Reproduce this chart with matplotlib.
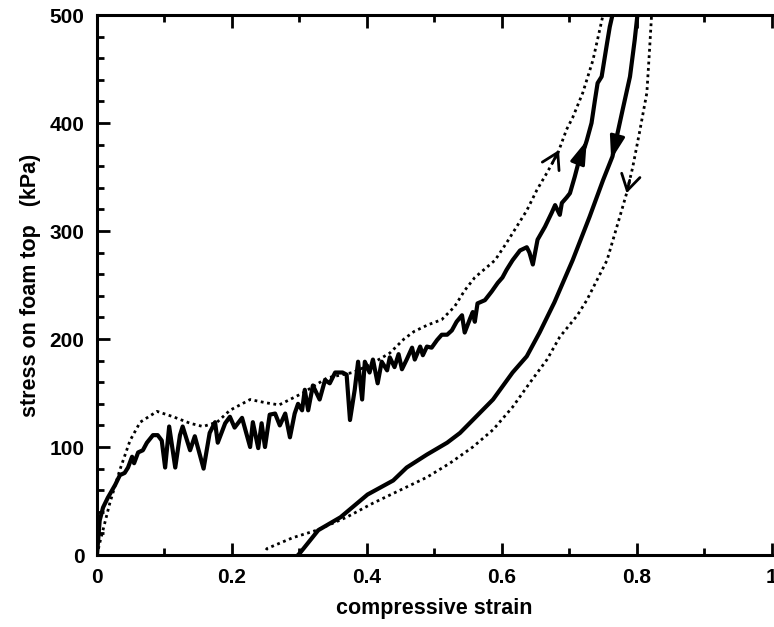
import numpy as np
import matplotlib
matplotlib.use("Agg")
import matplotlib.pyplot as plt
from matplotlib.ticker import MultipleLocator, FuncFormatter

plt.rcParams['font.family'] = ['Liberation Sans', 'DejaVu Sans']
plt.rcParams['font.weight'] = 'bold'

# loading, measured (solid)
load_x = [0, 0.004, 0.009, 0.016, 0.027, 0.034, 0.041, 0.046, 0.052, 0.055, 0.061, 0.068, 0.074,
          0.083, 0.090, 0.096, 0.101, 0.107, 0.116, 0.123, 0.127, 0.138, 0.145, 0.158, 0.167,
          0.175, 0.179, 0.190, 0.197, 0.204, 0.215, 0.227, 0.231, 0.239, 0.244, 0.249, 0.256,
          0.264, 0.271, 0.279, 0.286, 0.293, 0.298, 0.304, 0.308, 0.313, 0.320, 0.330, 0.338,
          0.345, 0.353, 0.364, 0.370, 0.375, 0.382, 0.387, 0.393, 0.397, 0.404, 0.409, 0.416,
          0.422, 0.430, 0.434, 0.441, 0.447, 0.452, 0.459, 0.467, 0.471, 0.479, 0.483, 0.489,
          0.496, 0.504, 0.511, 0.519, 0.526, 0.533, 0.541, 0.545, 0.553, 0.557, 0.560, 0.564,
          0.575, 0.585, 0.594, 0.601, 0.607, 0.616, 0.627, 0.637, 0.641, 0.646, 0.653, 0.664,
          0.674, 0.679, 0.686, 0.689, 0.696, 0.701, 0.708, 0.716, 0.723, 0.726, 0.733, 0.738,
          0.742, 0.748, 0.756, 0.760, 0.764, 0.767]
load_y = [0, 32, 44, 53, 65, 74, 76, 81, 91, 85, 95, 97, 104,
          111, 111, 106, 81, 119, 81, 111, 119, 97, 110, 80, 113,
          123, 104, 122, 128, 118, 127, 100, 123, 99, 122, 100, 130,
          131, 120, 131, 109, 131, 140, 134, 153, 134, 157, 144, 162,
          159, 169, 169, 167, 125, 153, 179, 144, 179, 169, 181, 159,
          179, 171, 183, 174, 186, 172, 181, 192, 181, 193, 185, 193,
          192, 199, 204, 204, 208, 216, 222, 206, 219, 225, 216, 233,
          236, 244, 252, 257, 264, 273, 282, 285, 280, 269, 292, 304,
          317, 324, 315, 326, 331, 335, 350, 369, 378, 384, 400, 421,
          437, 443, 474, 489, 500, 515]

# loading, model (dotted)
load_model_x = [0, 0.004, 0.019, 0.034, 0.049, 0.064, 0.089, 0.113, 0.138, 0.157, 0.178, 0.197,
                0.227, 0.25, 0.27, 0.305, 0.341, 0.379, 0.404, 0.434, 0.455, 0.47, 0.49, 0.511,
                0.530, 0.545, 0.560, 0.575, 0.590, 0.607, 0.622, 0.637, 0.652, 0.667, 0.683,
                0.696, 0.705, 0.720, 0.735, 0.745, 0.750, 0.752]
load_model_y = [0, 11, 48, 79, 106, 123, 133, 128, 122, 119, 123, 134,
                144, 141, 139, 150, 164, 169, 176, 187, 200, 207, 213, 218,
                230, 245, 257, 265, 273, 289, 304, 319, 338, 354, 372,
                394, 405, 428, 458, 486, 500, 510]

# unloading, measured (solid), in unloading order
unload_x = [0.803, 0.801, 0.797, 0.790, 0.779, 0.764, 0.750, 0.730, 0.705, 0.678, 0.656, 0.637,
            0.616, 0.587, 0.557, 0.538, 0.519, 0.489, 0.459, 0.439, 0.401, 0.361, 0.328, 0.301,
            0.298]
unload_y = [510, 500, 477, 443, 412, 369, 347, 313, 273, 234, 206, 184,
            169, 144, 125, 113, 104, 93, 81, 69, 56, 35, 23, 2,
            0]

# unloading, model (dotted), in unloading order
unload_model_x = [0.823, 0.822, 0.819, 0.815, 0.804, 0.794, 0.785, 0.779, 0.756, 0.726, 0.712,
                  0.686, 0.667, 0.641, 0.616, 0.587, 0.557, 0.523, 0.489, 0.449, 0.409, 0.370,
                  0.326, 0.290, 0.252, 0.249]
unload_model_y = [510, 500, 468, 428, 391, 359, 335, 322, 273, 236, 222,
                  202, 181, 159, 137, 116, 100, 85, 72, 60, 48, 35,
                  23, 16, 6, 3]

# stress level at which each direction arrow sits
arrow_load_stress = 384
arrow_load_model_stress = 375
arrow_unload_stress = 366
arrow_unload_model_stress = 335

fig = plt.figure(figsize=(7.74, 6.27), dpi=100)
ax = fig.add_axes([0.1253, 0.1148, 0.8717, 0.8612])

solid_lw = 3.0
dot_lw = 2.0
ax.plot(load_x, load_y, color='black', lw=solid_lw)
ax.plot(load_model_x, load_model_y, color='black', lw=dot_lw, ls=(0, (1, 1.3)))
ax.plot(unload_x, unload_y, color='black', lw=solid_lw)
ax.plot(unload_model_x, unload_model_y, color='black', lw=dot_lw, ls=(0, (1, 1.3)))


def arrow_on(xs, ys, stress, upward, solid):
    xs = np.asarray(xs, float)
    ys = np.asarray(ys, float)
    m = xs > 0.6
    xs, ys = xs[m], ys[m]
    o = np.argsort(ys)
    xs, ys = xs[o], ys[o]
    tip_y = stress
    tail_y = stress - 12 if upward else stress + 12
    tip = (np.interp(tip_y, ys, xs), tip_y)
    tail = (np.interp(tail_y, ys, xs), tail_y)
    if solid:
        props = dict(arrowstyle='-|>,head_length=0.95,head_width=0.3', color='black',
                     lw=2.2, mutation_scale=15, shrinkA=0, shrinkB=0)
    else:
        props = dict(arrowstyle='->,head_length=0.75,head_width=0.45', color='black',
                     lw=2.0, mutation_scale=15, shrinkA=0, shrinkB=0)
    ax.annotate('', xy=tip, xytext=tail, arrowprops=props)


arrow_on(load_x, load_y, arrow_load_stress, True, True)
arrow_on(load_model_x, load_model_y, arrow_load_model_stress, True, False)
arrow_on(unload_x, unload_y, arrow_unload_stress, False, True)
arrow_on(unload_model_x, unload_model_y, arrow_unload_model_stress, False, False)

ax.set_xlim(0, 1)
ax.set_ylim(0, 500)
ax.xaxis.set_major_locator(MultipleLocator(0.2))
ax.xaxis.set_minor_locator(MultipleLocator(0.1))
ax.yaxis.set_major_locator(MultipleLocator(100))
ax.yaxis.set_minor_locator(MultipleLocator(20))
ax.xaxis.set_major_formatter(FuncFormatter(lambda v, p: '%g' % round(v, 3)))
ax.yaxis.set_major_formatter(FuncFormatter(lambda v, p: '%g' % round(v, 3)))
ax.tick_params(which='both', direction='in', top=True, right=False, width=2)
ax.tick_params(which='major', length=9, labelsize=15, pad=9)
ax.tick_params(which='minor', length=5)
for lab in ax.get_xticklabels() + ax.get_yticklabels():
    lab.set_fontweight('bold')
for s in ax.spines.values():
    s.set_linewidth(2.2)
ax.spines['right'].set_visible(False)

ax.set_xlabel('compressive strain', fontsize=15.5, fontweight='bold', labelpad=8)
ax.set_ylabel('stress on foam top   (kPa)', fontsize=15.5, fontweight='bold', labelpad=6)

fig.savefig('out.png', dpi=100)
